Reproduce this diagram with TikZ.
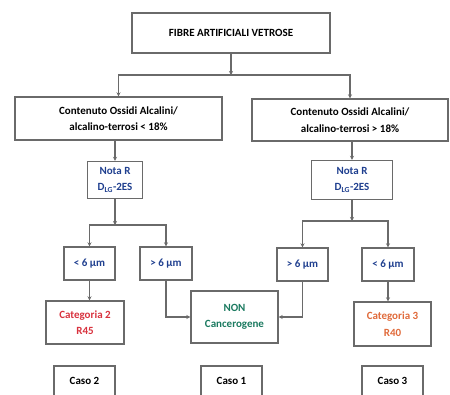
\documentclass[tikz,border=0pt]{standalone}
\usepackage{fontspec}
\setmainfont{Carlito}
\usepackage{xcolor}
\usetikzlibrary{positioning, arrows.meta}

\definecolor{boxgray}{HTML}{6A6A6A}
\definecolor{notablue}{HTML}{1F3F8F}
\definecolor{catred}{HTML}{D8323E}
\definecolor{catorange}{HTML}{E06A3A}
\definecolor{nonteal}{HTML}{1B7A60}

\begin{document}
\begin{tikzpicture}[
            x=1pt, y=-1pt,
            box/.style={draw=boxgray, line width=1.4pt, inner sep=0pt, align=center,
                font=\bfseries\fontsize{11}{16.5}\selectfont},
            conn/.style={draw=boxgray, line width=1.4pt, -{Stealth[length=4pt,width=4pt]}},
        ]
            \useasboundingbox (0,0) rectangle (450,394);
            \clip (0,0) rectangle (450,394);

            % top levels
            \node[box, minimum width=198pt, minimum height=40pt] (fibre) at (231,33) {FIBRE ARTIFICIALI VETROSE};
            \node[box, minimum width=207pt, minimum height=43pt] (ossidiL) at (118.5,118.5) {Contenuto Ossidi Alcalini/\\alcalino-terrosi < 18\%};
            \node[box, minimum width=196pt, minimum height=42pt] (ossidiR) at (350,120) {Contenuto Ossidi Alcalini/\\alcalino-terrosi > 18\%};
            \node[box, text=notablue, minimum width=55pt, minimum height=37pt] (notaL) at (115,180) {Nota R\\D\textsubscript{LG}-2ES};
            \node[box, text=notablue, minimum width=81pt, minimum height=39pt] (notaR) at (352,180) {Nota R\\D\textsubscript{LG}-2ES};

            % diameter boxes
            \node[box, text=notablue, minimum width=51pt, minimum height=33pt] (menoL) at (89.5,263.5) {< 6 µm};
            \node[box, text=notablue, minimum width=52pt, minimum height=33pt] (piuL) at (166,263.5) {> 6 µm};
            \node[box, text=notablue, minimum width=51pt, minimum height=33pt] (piuR) at (302.5,264.5) {> 6 µm};
            \node[box, text=notablue, minimum width=52pt, minimum height=33pt] (menoR) at (388,264.5) {< 6 µm};

            % outcomes
            \node[box, text=catred, minimum width=78pt, minimum height=43pt] (cat2) at (85,322.5) {Categoria 2\\R45};
            \node[box, text=nonteal, minimum width=87pt, minimum height=52pt] (noncanc) at (234.5,317) {NON\\Cancerogene};
            \node[box, text=catorange, minimum width=77pt, minimum height=44pt] (cat3) at (392.5,324) {Categoria 3\\R40};

            \node[box, minimum width=61pt, minimum height=30pt] (caso2) at (84.5,381) {Caso 2};
            \node[box, minimum width=61pt, minimum height=30pt] (caso1) at (231.5,381) {Caso 1};
            \node[box, minimum width=61pt, minimum height=30pt] (caso3) at (392.5,381) {Caso 3};

            % connectors
            \coordinate (busA) at (231,75);
            \coordinate (busB) at (0,225);
            \coordinate (busC) at (0,221);

            \draw[conn] (fibre) -- (fibre |- busA);
            \draw[conn] (fibre |- busA) -| (ossidiL);
            \draw[conn] (fibre |- busA) -| (ossidiR);
            \draw[conn] (notaL |- ossidiL.south) -- (notaL);
            \draw[conn] (notaR |- ossidiR.south) -- (notaR);

            \draw[conn] (notaL) -- (notaL |- busB);
            \draw[conn] (notaL |- busB) -| (menoL);
            \draw[conn] (notaL |- busB) -| (piuL);
            \draw[conn] (notaR) -- (notaR |- busC);
            \draw[conn] (notaR |- busC) -| (piuR);
            \draw[conn] (notaR |- busC) -| (menoR);

            \draw[conn] (menoL) -- (menoL |- cat2.north);
            \draw[conn] (menoR) -- (menoR |- cat3.north);
            \draw[conn] (piuL) |- (noncanc);
            \draw[conn] (piuR) |- (noncanc);
        \end{tikzpicture}
\end{document}
